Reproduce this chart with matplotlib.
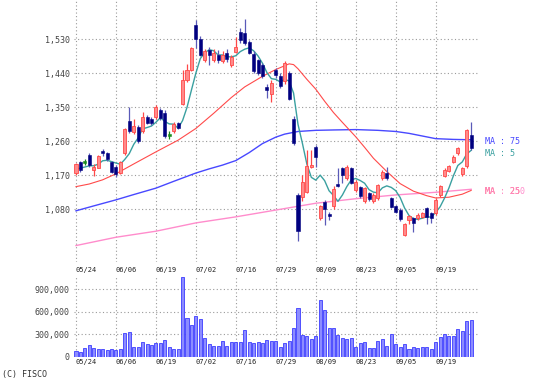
import matplotlib
matplotlib.use('Agg')
import matplotlib.pyplot as plt
import numpy as np
import pandas as pd

# ---------------- data ----------------
dates = ['05/24', '05/27', '05/28', '05/29', '05/30', '05/31',
         '06/03', '06/04', '06/05', '06/06', '06/07', '06/10', '06/11', '06/12', '06/13', '06/14',
         '06/17', '06/18', '06/19', '06/20', '06/21', '06/24', '06/25', '06/26', '06/27', '06/28',
         '07/01', '07/02', '07/03', '07/04', '07/05', '07/08', '07/09', '07/10', '07/11', '07/12',
         '07/16', '07/17', '07/18', '07/19', '07/22', '07/23', '07/24', '07/25', '07/26', '07/29',
         '07/30', '07/31', '08/01', '08/02', '08/05', '08/06', '08/07', '08/08', '08/09', '08/13',
         '08/14', '08/15', '08/16', '08/19', '08/20', '08/21', '08/22', '08/23', '08/26', '08/27',
         '08/28', '08/29', '08/30', '09/02', '09/03', '09/04', '09/05', '09/06', '09/09', '09/10',
         '09/11', '09/12', '09/13', '09/17', '09/18', '09/19', '09/20', '09/24', '09/25', '09/26',
         '09/27', '09/30', '10/01', '10/02']

opens = [1176, 1204, 1205, 1224, 1185, 1190, 1235, 1228, 1205, 1193,
         1176, 1228, 1313, 1284, 1298, 1286, 1324, 1320, 1324, 1343,
         1335, 1276, 1286, 1308, 1358, 1422, 1449, 1568, 1532, 1476,
         1502, 1476, 1489, 1472, 1493, 1462, 1497, 1550, 1546, 1522,
         1492, 1474, 1462, 1405, 1385, 1448, 1434, 1420, 1440, 1320,
         1118, 1112, 1127, 1191, 1246, 1056, 1100, 1068, 1090, 1148,
         1188, 1162, 1188, 1132, 1138, 1101, 1122, 1101, 1110, 1162,
         1176, 1110, 1088, 1078, 1012, 1052, 1056, 1056, 1059, 1083,
         1070, 1071, 1118, 1168, 1182, 1204, 1228, 1174, 1195, 1277]
highs = [1203, 1208, 1213, 1228, 1200, 1225, 1240, 1232, 1209, 1196,
         1208, 1295, 1352, 1320, 1302, 1338, 1330, 1325, 1355, 1347,
         1342, 1286, 1310, 1312, 1450, 1465, 1510, 1580, 1538, 1504,
         1510, 1504, 1502, 1500, 1504, 1488, 1535, 1559, 1583, 1528,
         1498, 1478, 1466, 1411, 1422, 1455, 1440, 1472, 1445, 1328,
         1122, 1170, 1237, 1237, 1250, 1092, 1105, 1074, 1142, 1189,
         1191, 1196, 1192, 1157, 1141, 1139, 1127, 1122, 1148, 1184,
         1192, 1113, 1092, 1083, 1044, 1065, 1060, 1069, 1072, 1086,
         1074, 1109, 1145, 1189, 1197, 1224, 1246, 1193, 1292, 1312]
lows = [1172, 1180, 1197, 1192, 1167, 1188, 1222, 1208, 1175, 1165,
        1174, 1225, 1283, 1280, 1256, 1282, 1306, 1302, 1320, 1316,
        1270, 1265, 1283, 1292, 1355, 1418, 1446, 1506, 1485, 1471,
        1462, 1471, 1468, 1466, 1471, 1457, 1495, 1519, 1515, 1490,
        1440, 1436, 1428, 1374, 1365, 1427, 1402, 1412, 1368, 1250,
        997, 1103, 1124, 1189, 1193, 1052, 1038, 1052, 1080, 1139,
        1150, 1158, 1148, 1126, 1109, 1096, 1103, 1096, 1105, 1158,
        1158, 1084, 1069, 1050, 1009, 1041, 1021, 1052, 1056, 1041,
        1043, 1065, 1113, 1166, 1180, 1202, 1224, 1168, 1190, 1238]
closes = [1199, 1183, 1205, 1196, 1193, 1220, 1228, 1212, 1178, 1174,
          1205, 1292, 1288, 1300, 1260, 1325, 1309, 1308, 1350, 1321,
          1275, 1276, 1305, 1296, 1422, 1449, 1506, 1530, 1488, 1499,
          1489, 1493, 1474, 1488, 1477, 1484, 1510, 1528, 1520, 1495,
          1445, 1441, 1432, 1396, 1415, 1436, 1406, 1468, 1372, 1256,
          1022, 1153, 1195, 1197, 1219, 1088, 1080, 1061, 1135, 1141,
          1172, 1192, 1150, 1153, 1114, 1136, 1107, 1117, 1144, 1180,
          1162, 1087, 1074, 1054, 1041, 1062, 1044, 1066, 1069, 1060,
          1057, 1105, 1142, 1184, 1195, 1218, 1241, 1189, 1290, 1242]
prior_closes = [1168, 1190, 1181, 1192]

volumes = [75, 65, 120, 155, 110, 100, 105, 90, 105, 85,
           105, 310, 325, 130, 125, 200, 175, 155, 180, 180,
           225, 130, 100, 100, 1060, 520, 430, 540, 510, 250,
           175, 145, 145, 210, 145, 200, 200, 200, 350, 190,
           180, 200, 180, 220, 215, 205, 125, 180, 215, 385,
           650, 290, 278, 237, 278, 752, 618, 385, 385, 290,
           246, 237, 250, 134, 180, 197, 112, 112, 215, 237,
           148, 304, 165, 125, 165, 103, 134, 112, 134, 134,
           103, 197, 260, 304, 273, 282, 367, 349, 475, 493]  # thousands of shares

ma25_idx = [0, 3, 6, 9, 13, 18, 23, 27, 31, 35, 38, 42, 45, 48, 49, 50, 52, 54, 56, 58, 60,
            63, 65, 67, 70, 73, 76, 79, 81, 84, 87, 89]
ma25_val = [1140, 1147, 1158, 1174, 1200, 1232, 1263, 1294, 1334, 1376, 1404, 1432, 1450, 1465, 1463,
            1452, 1424, 1398, 1366, 1336, 1310, 1272, 1244, 1215, 1180, 1148, 1128, 1116, 1110,
            1112, 1120, 1130]
ma75_idx = [0, 4, 9, 13, 18, 22, 27, 30, 33, 36, 39, 42, 45, 47, 50, 54, 58, 63, 68, 72, 75, 78, 81, 85, 89]
ma75_val = [1076, 1089, 1105, 1119, 1136, 1154, 1176, 1187, 1197, 1209, 1230, 1254, 1271, 1279, 1286,
            1289, 1290, 1291, 1289, 1286, 1281, 1274, 1267, 1265, 1264]
ma250_idx = [0, 9, 18, 27, 36, 45, 54, 63, 72, 81, 89]
ma250_val = [984, 1006, 1022, 1044, 1060, 1078, 1096, 1108, 1118, 1125, 1133]

price_ticks = [1080, 1170, 1260, 1350, 1440, 1530]
vol_ticks = [0, 300000, 600000, 900000]

# ---------------- styles ----------------
UP_FILL, UP_EDGE = '#ff8a8a', '#ff4848'
DN_FILL, DN_WICK = '#000080', '#5a5ab8'
FLAT = '#1a8c1a'
C_MA5, C_MA25, C_MA75, C_MA250 = '#3aa0a0', '#ff4a4a', '#4848ff', '#ff8ccc'
GRID = dict(color='#9a9a9a', linestyle=(0, (1, 2.2)), linewidth=0.8)
MONO = 'DejaVu Sans Mono'

W, H = 539, 387
fig = plt.figure(figsize=(W / 100, H / 100), dpi=100)


def rect(l, t, r, b):
    return [l / W, 1 - b / H, (r - l) / W, (b - t) / H]


ax = fig.add_axes(rect(74, 0, 478, 262))
axv = fig.add_axes(rect(74, 276.6, 478, 356.7))

n = len(closes)
x = np.arange(n)
o = np.array(opens, float)
h = np.array(highs, float)
l = np.array(lows, float)
c = np.array(closes, float)
up = c > o
dn = c < o
fl = c == o

# moving averages
ma5 = pd.Series(prior_closes + closes, dtype=float).rolling(5).mean().iloc[len(prior_closes):].values
ax.plot(ma250_idx, ma250_val, color=C_MA250, lw=1.0, zorder=2)
ax.plot(ma75_idx, ma75_val, color=C_MA75, lw=1.0, zorder=2)
ax.plot(ma25_idx, ma25_val, color=C_MA25, lw=0.8, zorder=2)
ax.plot(x, ma5, color=C_MA5, lw=1.0, zorder=2)

# candles
bw = 0.68
ax.vlines(x[up], l[up], h[up], color=UP_EDGE, lw=0.9, zorder=3)
ax.bar(x[up], c[up] - o[up], bottom=o[up], width=bw, color=UP_FILL, edgecolor=UP_EDGE, linewidth=0.6, zorder=4)
ax.vlines(x[dn], l[dn], h[dn], color=DN_WICK, lw=0.9, zorder=3)
ax.bar(x[dn], o[dn] - c[dn], bottom=c[dn], width=bw, color=DN_FILL, edgecolor=DN_FILL, linewidth=0.4, zorder=4)
ax.vlines(x[fl], l[fl], h[fl], color=FLAT, lw=0.9, zorder=3)
ax.bar(x[fl], 5, bottom=o[fl] - 2.5, width=bw, color=FLAT, edgecolor=FLAT, linewidth=0.4, zorder=4)

# volume
axv.bar(x, np.array(volumes) * 1000, width=bw, color='#8c8cff', edgecolor='#3c3cff', linewidth=0.6, zorder=3)

# axes formatting
tick_pos = list(range(0, n, 9))
tick_lab = [dates[i] for i in tick_pos]
for a in (ax, axv):
    a.set_xlim(-0.45, 90.54)
    for s in a.spines.values():
        s.set_visible(False)
    a.set_xticks(tick_pos)
    a.set_xticklabels(tick_lab, fontsize=5, family=MONO, color='#222222', ha='left')
    a.tick_params(axis='both', length=0)
    a.grid(True, **GRID)
    a.set_axisbelow(True)

ax.set_ylim(940.5, 1634)
ax.set_yticks(price_ticks)
ax.set_yticklabels([f'{v:,}' for v in price_ticks], fontsize=6, family=MONO, color='#444444')
ax.tick_params(axis='y', pad=3)
ax.tick_params(axis='x', pad=3.5)

axv.set_ylim(0, 1070000)
axv.set_yticks(vol_ticks)
axv.set_yticklabels([f'{v:,}' for v in vol_ticks], fontsize=6, family=MONO, color='#444444')
axv.tick_params(axis='y', pad=3)
axv.tick_params(axis='x', pad=1.5)
axv.get_ygridlines()[0].set_visible(False)

# MA labels at last values (MA 25 and MA 250 overlap, as in the original)
lab_kw = dict(xycoords=('axes fraction', 'data'), textcoords='offset points', ha='left', va='center',
              fontsize=6, family=MONO, annotation_clip=False)
ax.annotate('MA : 75', xy=(1, ma75_val[-1]), xytext=(5, -1), color=C_MA75, **lab_kw)
ax.annotate('MA : 5', xy=(1, ma5[-1]), xytext=(5, -2.5), color=C_MA5, **lab_kw)
ax.annotate('MA : 25', xy=(1, ma25_val[-1]), xytext=(5, -0.5), color=C_MA25, **lab_kw)
ax.annotate('MA : 250', xy=(1, ma250_val[-1]), xytext=(5, -1.3), color=C_MA250, **lab_kw)

fig.text(2 / W, 1 - 374 / H, '(C) FISCO', fontsize=6, family=MONO, color='#333333', va='center', ha='left')

fig.savefig('out.png', dpi=100)
